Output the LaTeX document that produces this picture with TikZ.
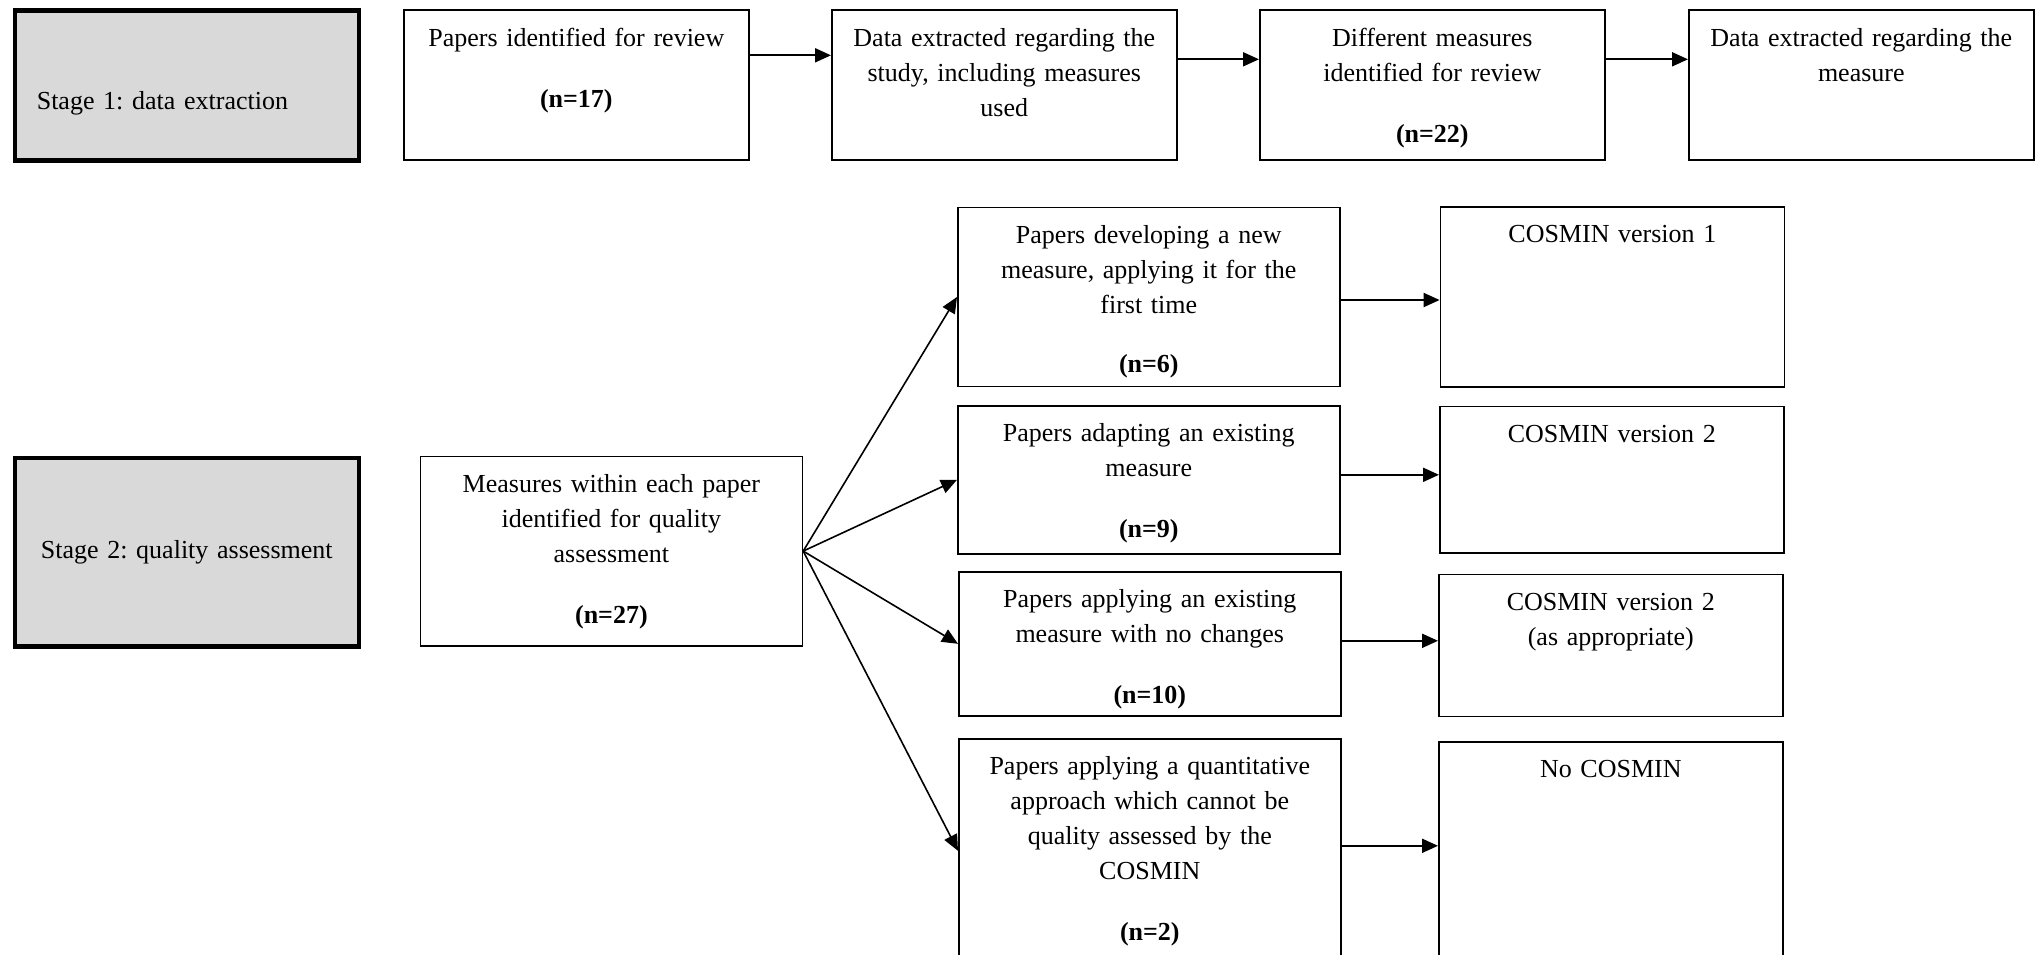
\documentclass[tikz,border=0pt]{standalone}
\usepackage{fontspec}
\setmainfont{Liberation Serif}
\usetikzlibrary{arrows.meta}
\definecolor{stagegray}{RGB}{217, 217, 217}
\frenchspacing

\begin{document}
\begin{tikzpicture}[x=0.5pt, y=-0.5pt,
    every node/.style={font=\fontsize{13}{17.5}\selectfont},
    stagebox/.style={draw, line width=2.3pt, fill=stagegray, minimum width=172pt,
        inner xsep=11pt, inner ysep=0pt, text width=150pt, anchor=north west},
    box/.style={draw, line width=0.8pt, inner xsep=4pt, inner ysep=0pt,
        text width=#1, align=center, text height=18pt, anchor=north west},
    link/.style={-{Triangle[length=8pt, width=7pt]}, line width=1pt},
    fan/.style={-{Triangle[length=8pt, width=7pt]}, line width=0.8pt}]

    \clip (0,0) rectangle (2036,954);

    % Stage labels
    \node[stagebox, align=left, text height=49.5pt, text depth=25.5pt] (stage1)
        at (12.5,8) {Stage 1: data extraction};
    \node[stagebox, align=center, minimum height=94.2pt] (stage2)
        at (12.5,455.8) {Stage 2: quality assessment};

    % Stage 1 row
    \node[box=164.5pt, text depth=57pt] (ident) at (403,9.3)
        {Papers identified for review\\[13pt]\textbf{(n=17)}};
    \node[box=164.5pt, text depth=57pt] (extract) at (831,9.3)
        {Data extracted regarding the\\study, including measures\\used};
    \node[box=164.5pt, text depth=57pt] (different) at (1259,9.3)
        {Different measures\\identified for review\\[13pt]\textbf{(n=22)}};
    \node[box=164.5pt, text depth=57pt] (measure) at (1688,9.3)
        {Data extracted regarding the\\measure};

    \draw[link] ([yshift=-23pt]ident.north east) -- ([yshift=-23pt]extract.north west);
    \draw[link] ([yshift=-25pt]extract.north east) -- ([yshift=-25pt]different.north west);
    \draw[link] ([yshift=-25pt]different.north east) -- ([yshift=-25pt]measure.north west);

    % Stage 2 measures
    \node[box=183pt, text depth=76.6pt] (within) at (419.6,455.7)
        {Measures within each paper\\identified for quality\\assessment\\[13pt]\textbf{(n=27)}};

    % Paper types
    \node[box=183pt, text depth=71.5pt] (newm) at (957,206.7)
        {Papers developing a new\\measure, applying it for the\\first time\\[12pt]\textbf{(n=6)}};
    \node[box=183pt, text depth=56pt] (adapt) at (957,405)
        {Papers adapting an existing\\measure\\[13pt]\textbf{(n=9)}};
    \node[box=183pt, text depth=54pt] (apply) at (958,571)
        {Papers applying an existing\\measure with no changes\\[13pt]\textbf{(n=10)}};
    \node[box=183pt, text depth=94pt] (quant) at (958,738)
        {Papers applying a quantitative\\approach which cannot be\\quality assessed by the\\COSMIN\\[13pt]\textbf{(n=2)}};

    % COSMIN versions
    \node[box=164pt, text depth=72pt] (cosa) at (1439.6,206) {COSMIN version 1};
    \node[box=164pt, text depth=55.25pt] (cosb) at (1439,405.5) {COSMIN version 2};
    \node[box=164pt, text depth=53pt] (cosc) at (1438,573.5)
        {COSMIN version 2\\(as appropriate)};
    \node[box=164pt, text depth=92.5pt] (none) at (1438,741) {No COSMIN};

    \foreach \t in {newm, adapt, apply, quant}
        \draw[fan] (within.east) -- (\t.west);

    \foreach \a/\b/\s in {newm/cosa/-1.5pt, adapt/cosb/2.5pt, apply/cosc/1.5pt, quant/none/2.5pt}
        \draw[link] ([yshift=\s]\a.east) -- ([yshift=\s]\a.east -| \b.west);

\end{tikzpicture}
\end{document}
